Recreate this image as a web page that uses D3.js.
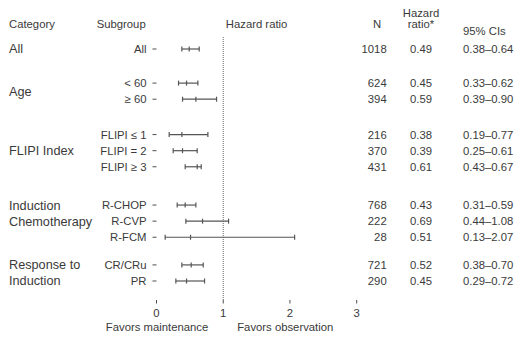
<!DOCTYPE html>
<html>
<head>
<meta charset="utf-8">
<script src="https://cdn.jsdelivr.net/npm/d3@7"></script>
<style>
  html, body { margin: 0; padding: 0; background: #fff; }
  svg { display: block; font-family: "Liberation Sans", Arial, Helvetica, sans-serif; }
</style>
</head>
<body>
<svg id="chart" width="515" height="339"></svg>
<script>
// ---- Data ----
const categories = ["All", "Age", "FLIPI Index", "Induction\nChemotherapy", "Response to\nInduction"];
const subgroups = ["All", "< 60", "≥ 60", "FLIPI ≤ 1", "FLIPI = 2", "FLIPI ≥ 3", "R-CHOP", "R-CVP", "R-FCM", "CR/CRu", "PR"];
const subgroupCategory = [0, 1, 1, 2, 2, 2, 3, 3, 3, 4, 4];
const nValues = [1018, 624, 394, 216, 370, 431, 768, 222, 28, 721, 290];
const hazardRatio = [0.49, 0.45, 0.59, 0.38, 0.39, 0.61, 0.43, 0.69, 0.51, 0.52, 0.45];
const ciLow = [0.38, 0.33, 0.39, 0.19, 0.25, 0.43, 0.31, 0.44, 0.13, 0.38, 0.29];
const ciHigh = [0.64, 0.62, 0.90, 0.77, 0.61, 0.67, 0.59, 1.08, 2.07, 0.70, 0.72];
const hrLabels = ["0.49", "0.45", "0.59", "0.38", "0.39", "0.61", "0.43", "0.69", "0.51", "0.52", "0.45"];
const ciLabels = ["0.38–0.64", "0.33–0.62", "0.39–0.90", "0.19–0.77", "0.25–0.61", "0.43–0.67", "0.31–0.59", "0.44–1.08", "0.13–2.07", "0.38–0.70", "0.29–0.72"];
const xTicks = [0, 1, 2, 3];
const referenceValue = 1;

// ---- Layout ----
const svg = d3.select("#chart");
const textColor = "#3a3a3a";
const axisColor = "#4d4d4d";
const lineColor = "#555555";

// extra vertical gap (in row units) before each category group
const groupGap = [0, 1.12, 1.2, 1.38, 0.72];
const slot = [];
{
  let acc = 0, prev = -1;
  subgroups.forEach((s, i) => {
    const g = subgroupCategory[i];
    if (i > 0) acc += 1;
    if (g !== prev && i > 0) acc += groupGap[g];
    prev = g;
    slot.push(acc);
  });
}
const y = d3.scaleLinear().domain([0, slot[slot.length - 1]]).range([49, 281]);
const x = d3.scaleLinear().domain([0, 3]).range([156.5, 356.7]);
const panelTop = 37, panelBottom = 300;

// ---- Headers ----
const hdr = svg.append("g").attr("fill", textColor).attr("font-size", 11.3);
hdr.append("text").attr("x", 9).attr("y", 24.3).attr("dy", "0.35em").text("Category");
hdr.append("text").attr("x", 96.7).attr("y", 24.3).attr("dy", "0.35em").text("Subgroup");
hdr.append("text").attr("x", (x(0) + x(3)) / 2).attr("y", 24.3).attr("dy", "0.35em").attr("text-anchor", "middle").text("Hazard ratio");
hdr.append("text").attr("x", 377).attr("y", 24.3).attr("dy", "0.35em").attr("text-anchor", "middle").text("N");
hdr.append("text").attr("x", 421).attr("y", 12.7).attr("dy", "0.35em").attr("text-anchor", "middle").text("Hazard");
hdr.append("text").attr("x", 421).attr("y", 24.3).attr("dy", "0.35em").attr("text-anchor", "middle").text("ratio*");
hdr.append("text").attr("x", 463).attr("y", 31).attr("dy", "0.35em").text("95% CIs");

// ---- Category labels ----
const catG = svg.append("g").attr("fill", textColor).attr("font-size", 12.7);
categories.forEach((c, gi) => {
  const idx = d3.range(subgroups.length).filter(i => subgroupCategory[i] === gi);
  const lines = c.split("\n");
  if (lines.length === 1) {
    const yc = d3.mean(idx, i => y(slot[i]));
    catG.append("text").attr("x", 9).attr("y", yc).attr("dy", "0.35em").text(c);
  } else {
    lines.forEach((ln, li) => {
      catG.append("text").attr("x", 9).attr("y", y(slot[idx[li]])).attr("dy", "0.35em").text(ln);
    });
  }
});

// ---- Y axis (subgroups) ----
const yAxisG = svg.append("g");
subgroups.forEach((s, i) => {
  const yy = y(slot[i]);
  yAxisG.append("line").attr("x1", x(0) - 4).attr("x2", x(0)).attr("y1", yy).attr("y2", yy)
    .attr("stroke", axisColor).attr("stroke-width", 1);
  yAxisG.append("text").attr("x", x(0) - 10).attr("y", yy).attr("dy", "0.35em")
    .attr("text-anchor", "end").attr("font-size", 11.3).attr("fill", textColor).text(s);
});

// ---- Reference line ----
svg.append("line").attr("x1", x(referenceValue)).attr("x2", x(referenceValue))
  .attr("y1", panelTop).attr("y2", panelBottom)
  .attr("stroke", "#666").attr("stroke-width", 1).attr("stroke-dasharray", "1,1");

// ---- CI bars ----
const bars = svg.append("g").attr("stroke", lineColor).attr("stroke-width", 1.2).attr("fill", "none");
subgroups.forEach((s, i) => {
  const yy = y(slot[i]);
  const h = 2.5;
  bars.append("line").attr("x1", x(ciLow[i])).attr("x2", x(ciHigh[i])).attr("y1", yy).attr("y2", yy);
  bars.append("line").attr("x1", x(ciLow[i])).attr("x2", x(ciLow[i])).attr("y1", yy - h).attr("y2", yy + h);
  bars.append("line").attr("x1", x(ciHigh[i])).attr("x2", x(ciHigh[i])).attr("y1", yy - h).attr("y2", yy + h);
  bars.append("line").attr("x1", x(hazardRatio[i])).attr("x2", x(hazardRatio[i])).attr("y1", yy - h).attr("y2", yy + h);
});

// ---- X axis ----
const xAxisG = svg.append("g");
xTicks.forEach(t => {
  xAxisG.append("line").attr("x1", x(t)).attr("x2", x(t)).attr("y1", panelBottom).attr("y2", panelBottom + 3.5)
    .attr("stroke", axisColor).attr("stroke-width", 1);
  xAxisG.append("text").attr("x", x(t)).attr("y", 313.3).attr("dy", "0.35em")
    .attr("text-anchor", "middle").attr("font-size", 11.3).attr("fill", textColor).text(t);
});
svg.append("text").attr("x", x(referenceValue) - 15).attr("y", 326.7).attr("dy", "0.35em")
  .attr("text-anchor", "end").attr("font-size", 11.3).attr("fill", textColor).text("Favors maintenance");
svg.append("text").attr("x", x(referenceValue) + 14).attr("y", 326.7).attr("dy", "0.35em")
  .attr("text-anchor", "start").attr("font-size", 11.3).attr("fill", textColor).text("Favors observation");

// ---- Table columns ----
const tbl = svg.append("g").attr("fill", textColor).attr("font-size", 11.3);
subgroups.forEach((s, i) => {
  const yy = y(slot[i]);
  tbl.append("text").attr("x", 386.7).attr("y", yy).attr("dy", "0.35em").attr("text-anchor", "end").text(nValues[i]);
  tbl.append("text").attr("x", 421).attr("y", yy).attr("dy", "0.35em").attr("text-anchor", "middle").text(hrLabels[i]);
  tbl.append("text").attr("x", 463).attr("y", yy).attr("dy", "0.35em").text(ciLabels[i]);
});
</script>
</body>
</html>
